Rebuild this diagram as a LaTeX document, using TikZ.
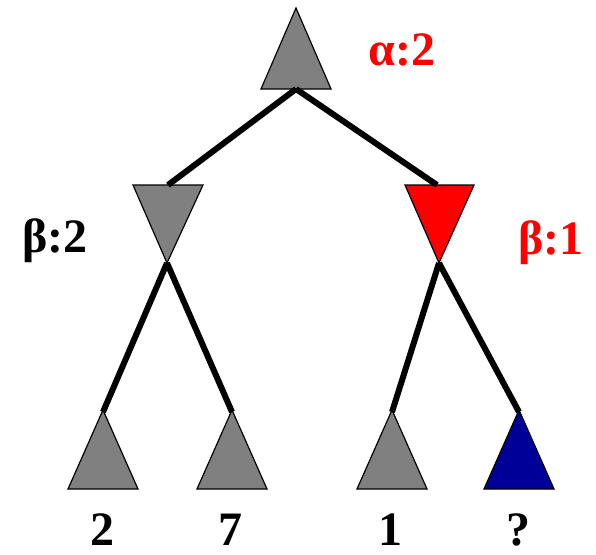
\documentclass[tikz,border=0pt]{standalone}
\usepackage{fontspec}
\setmainfont{Liberation Serif}
\begin{document}
\begin{tikzpicture}[x=1pt,y=-1pt,
  tri/.style={draw=black,line width=1.2pt,line join=miter},
  edge/.style={line width=6pt},
  lbl/.style={font=\fontsize{48}{56}\selectfont\bfseries,anchor=base,inner sep=0pt}]
\useasboundingbox (0,0) rectangle (596,554);
\definecolor{tgray}{HTML}{808080}
\definecolor{tblue}{HTML}{000099}
% root (max)
\coordinate (r) at (296,89);
\filldraw[tri,fill=tgray] (296,8) -- (331,89) -- (261,89) -- cycle;
% min nodes
\coordinate (ma) at (168,185);
\coordinate (mab) at (167,263);
\filldraw[tri,fill=tgray] (133,185) -- (203,185) -- (167,263) -- cycle;
\coordinate (mb) at (437,185);
\coordinate (mbb) at (439,263);
\filldraw[tri,fill=red] (405,185) -- (474,185) -- (439,263) -- cycle;
% leaves
\coordinate (l1) at (103,410);
\coordinate (l2) at (232,410);
\coordinate (l3) at (392,410);
\coordinate (l4) at (519,410);
\filldraw[tri,fill=tgray] (103,410) -- (138,489) -- (68,489) -- cycle;
\filldraw[tri,fill=tgray] (232,410) -- (267,489) -- (197,489) -- cycle;
\filldraw[tri,fill=tgray] (392,410) -- (427,489) -- (357,489) -- cycle;
\filldraw[tri,fill=tblue] (519,410) -- (554,489) -- (484,489) -- cycle;
% edges
\draw[edge] (r) -- (ma);
\draw[edge] (r) -- (mb);
\draw[edge] (mab) -- ([yshift=-2pt]l1);
\draw[edge] (mab) -- ([yshift=-2pt]l2);
\draw[edge] (mbb) -- ([yshift=-2pt]l3);
\draw[edge] (mbb) -- ([yshift=-2pt]l4);
% labels
\node[lbl,text=red] (ta) at (402,65) {α:2};
\node[lbl] (tb1) at (55,252) {β:2};
\node[lbl,text=red] (tb2) at (551,254) {β:1};
\node[lbl] (v1) at (102,545) {2};
\node[lbl] (v2) at (230,545) {7};
\node[lbl] (v3) at (390,545) {1};
\node[lbl] (v4) at (518,545) {?};
\end{tikzpicture}
\end{document}
